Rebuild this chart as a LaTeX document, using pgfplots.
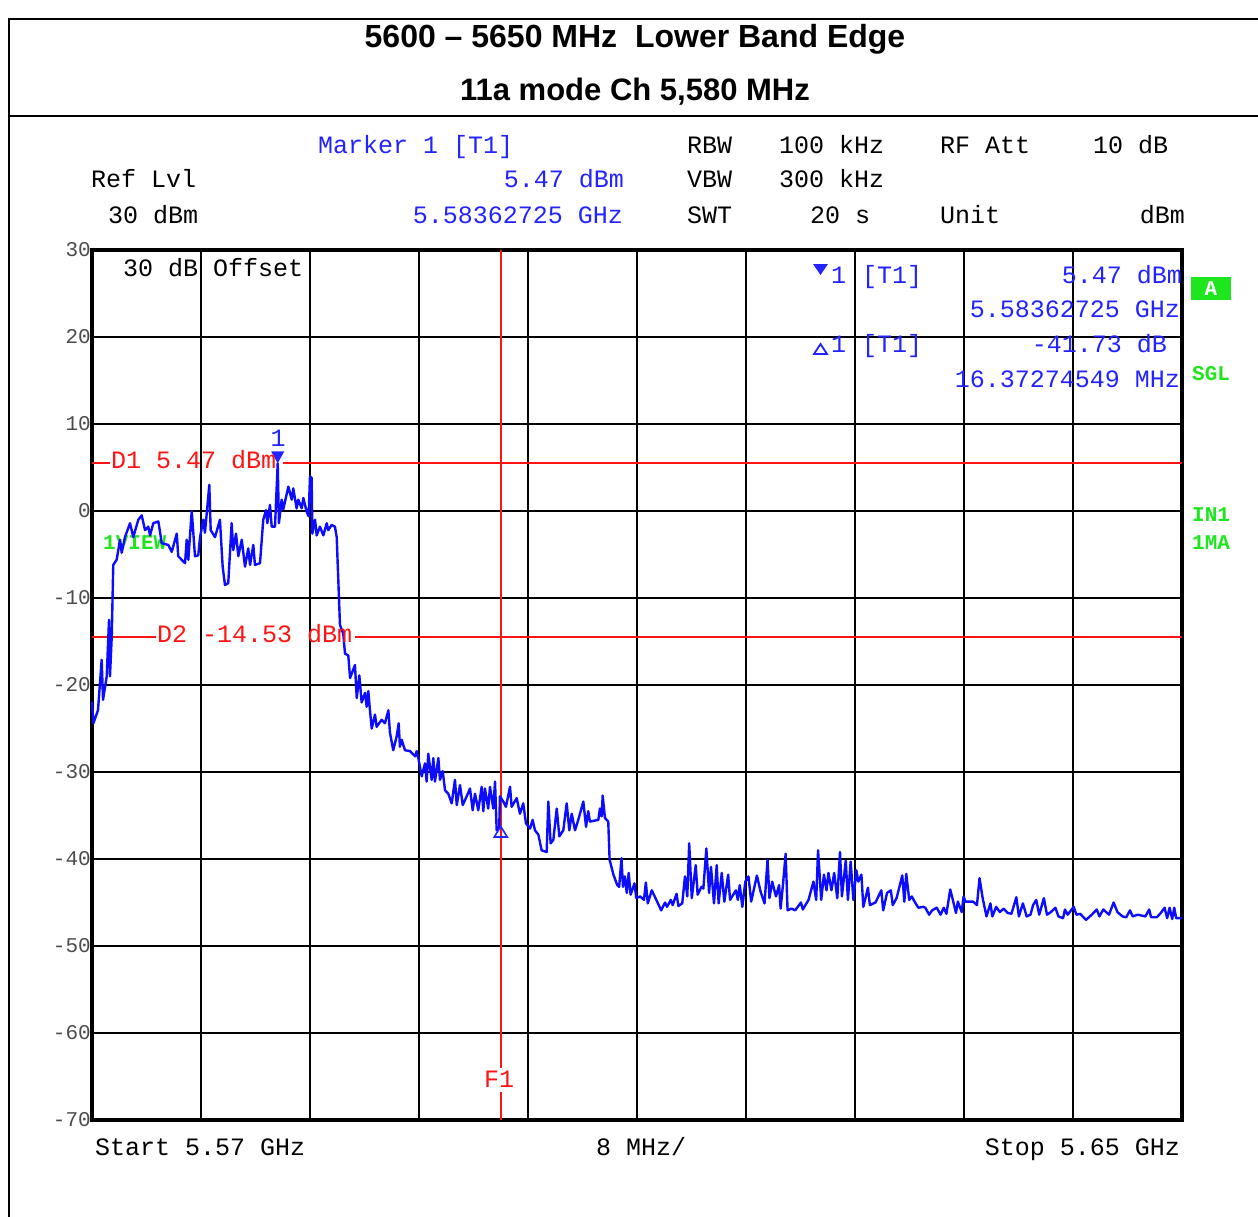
\documentclass[border=0pt]{standalone}
\usepackage{fontspec}
\setmainfont{Liberation Sans}
\newfontfamily\mono{Liberation Mono}
\usepackage{pgfplots}
\pgfplotsset{compat=1.18}

\definecolor{trace}{RGB}{12,12,255}
\definecolor{lim}{RGB}{255,20,20}
\definecolor{mk}{RGB}{35,35,255}
\definecolor{stat}{RGB}{30,230,30}

% marker 1 (filled, tip down) and delta marker (open, tip up)
\pgfdeclareplotmark{mdown}{\pgfpathmoveto{\pgfpointorigin}\pgfpathlineto{\pgfpoint{-6.5pt}{12pt}}\pgfpathlineto{\pgfpoint{6.5pt}{12pt}}\pgfpathclose\pgfusepathqfill}
\pgfdeclareplotmark{mup}{\pgfpathmoveto{\pgfpointorigin}\pgfpathlineto{\pgfpoint{-6.5pt}{-10.5pt}}\pgfpathlineto{\pgfpoint{6.5pt}{-10.5pt}}\pgfpathclose\pgfusepathqstroke}

\newcommand\mf{\mono\fontsize{25}{30}\selectfont}
\newcommand\gf{\mono\bfseries\fontsize{21}{24}\selectfont}

\begin{document}
\begin{tikzpicture}
\useasboundingbox (0pt,0pt) rectangle (1258pt,-1217pt);

% trace label that lies under the trace
\begin{scope}[x=1pt,y=-1pt]
\node[anchor=base west,inner sep=0,text=stat] at (103,549) {\gf 1VIEW};
\end{scope}

\begin{axis}[
  at={(92pt,-250pt)}, anchor=north west,
  scale only axis, width=1090pt, height=870pt,
  xmin=5570, xmax=5650, ymin=-70, ymax=30,
  xtick={5570,5578,...,5650}, xticklabels={},
  ytick={-70,-60,...,30},
  yticklabels={-70,-60,-50,-40,-30,-20,-10,0,10,20,30},
  yticklabel style={font=\mono\fontsize{21}{24}\selectfont, text=black!70, inner sep=1pt},
  grid=major, major grid style={black, line width=1.3pt},
  major tick length=0pt,
  axis line style={line width=3.5pt},
  clip=false,
]
% display lines D1, D2 and frequency line F1
\addplot[lim, line width=2pt] coordinates {(5570,5.47) (5571.3,5.47)};
\addplot[lim, line width=2pt] coordinates {(5584.0,5.47) (5650,5.47)};
\addplot[lim, line width=2pt] coordinates {(5570,-14.53) (5574.7,-14.53)};
\addplot[lim, line width=2pt] coordinates {(5589.3,-14.53) (5650,-14.53)};
\addplot[lim, line width=1.6pt] coordinates {(5600,30) (5600,-64.0)};
\addplot[lim, line width=1.6pt] coordinates {(5600,-66.8) (5600,-70)};

% measured trace
\addplot[trace, line width=2.4pt, line join=round] coordinates {
(5570.0,-21.9) (5570.1,-24.4) (5570.44,-22.9) (5570.71,-17.1) (5570.81,-21.7)
(5571.08,-19.0) (5571.25,-12.5) (5571.32,-19.0) (5571.45,-14.4) (5571.56,-6.2)
(5571.81,-5.6) (5572.06,-3.3) (5572.18,-4.8) (5572.42,-3.0) (5572.79,-1.4)
(5573.03,-3.0) (5573.40,-1.0) (5573.65,-0.5) (5573.89,-2.2) (5574.13,-1.8)
(5574.26,-2.8) (5574.50,-1.4) (5574.87,-1.2) (5575.12,-3.7) (5575.60,-3.9)
(5575.85,-4.7) (5576.22,-2.6) (5576.33,-5.2) (5576.58,-5.6) (5576.83,-6.0)
(5576.95,-3.3) (5577.07,-5.6) (5577.32,0.0) (5577.56,-5.2) (5577.80,-5.1)
(5577.93,-3.0) (5578.17,-1.0) (5578.29,-2.5) (5578.61,3.0) (5578.71,-2.2)
(5579.03,-3.0) (5579.39,-1.0) (5579.59,-6.4) (5579.76,-8.5) (5580.00,-8.3)
(5580.25,-1.4) (5580.37,-4.5) (5580.57,-2.6) (5580.74,-5.2) (5580.99,-3.3)
(5581.23,-6.4) (5581.47,-4.3) (5581.60,-6.2) (5581.84,-3.9) (5581.96,-6.2)
(5582.33,-6.0) (5582.57,-1.0) (5582.77,0.1) (5582.87,-1.4) (5583.06,0.7)
(5583.19,-1.8) (5583.43,-1.8) (5583.63,5.47) (5583.72,-1.4) (5583.92,1.3)
(5584.04,0.2) (5584.41,2.8) (5584.66,1.3) (5584.77,2.6) (5585.02,0.3)
(5585.14,1.3) (5585.39,0.3) (5585.51,1.5) (5585.76,-0.1) (5585.90,-0.6)
(5586.00,4.0) (5586.12,3.8) (5586.17,-2.6) (5586.37,-1.0) (5586.49,-2.8)
(5586.73,-1.8) (5586.98,-2.8) (5587.23,-1.4) (5587.34,-2.2) (5587.59,-1.6)
(5587.83,-1.8) (5587.96,-3.0) (5588.20,-13.1) (5588.44,-14.1) (5588.57,-16.4)
(5588.81,-16.6) (5588.94,-19.2) (5589.30,-17.7) (5589.43,-21.5) (5589.62,-18.9)
(5589.79,-22.0) (5590.04,-20.9) (5590.16,-22.5) (5590.28,-20.7) (5590.40,-22.9)
(5590.53,-25.0) (5590.77,-23.4) (5590.89,-24.8) (5591.26,-24.0) (5591.50,-24.4)
(5591.75,-22.9) (5591.87,-25.5) (5592.11,-27.5) (5592.36,-25.9) (5592.51,-24.4)
(5592.60,-27.1) (5592.73,-26.3) (5592.97,-27.5) (5593.34,-27.6) (5593.71,-28.2)
(5593.83,-27.6) (5593.95,-28.4) (5594.20,-30.5) (5594.44,-29.0) (5594.56,-31.1)
(5594.68,-27.9) (5594.93,-30.9) (5595.05,-28.4) (5595.17,-31.1) (5595.42,-28.4)
(5595.54,-30.9) (5595.74,-29.9) (5595.91,-32.1) (5596.15,-32.5) (5596.40,-33.6)
(5596.64,-30.9) (5596.77,-33.8) (5597.01,-31.5) (5597.21,-33.8) (5597.50,-32.8)
(5597.74,-31.9) (5597.94,-34.4) (5598.11,-32.5) (5598.35,-34.4) (5598.60,-31.7)
(5598.72,-34.5) (5598.84,-31.9) (5599.08,-34.2) (5599.21,-31.7) (5599.45,-34.2)
(5599.58,-31.1) (5599.70,-36.7) (5599.89,-36.3) (5599.94,-32.8) (5600.19,-33.4)
(5600.38,-34.0) (5600.68,-31.7) (5600.80,-34.0) (5601.17,-33.0) (5601.41,-34.8)
(5601.65,-33.6) (5601.85,-35.9) (5602.15,-36.5) (5602.34,-35.5) (5602.51,-36.7)
(5602.76,-37.2) (5603.00,-39.0) (5603.37,-39.2) (5603.49,-33.4) (5603.66,-38.2)
(5603.86,-37.8) (5604.11,-34.2) (5604.30,-37.4) (5604.59,-36.7) (5604.84,-33.6)
(5605.03,-36.7) (5605.21,-34.8) (5605.45,-36.7) (5605.69,-35.5) (5606.06,-33.4)
(5606.26,-36.3) (5606.42,-34.5) (5606.55,-35.7) (5607.16,-35.5) (5607.28,-34.2)
(5607.41,-35.1) (5607.48,-32.7) (5607.65,-35.3) (5607.89,-35.7) (5607.99,-40.1)
(5608.27,-41.8) (5608.55,-43.0) (5608.69,-43.2) (5608.86,-39.9) (5608.97,-43.2)
(5609.11,-42.0) (5609.25,-43.9) (5609.39,-41.6) (5609.53,-44.1) (5609.81,-42.8)
(5609.95,-44.5) (5610.23,-44.3) (5610.51,-44.7) (5610.65,-42.7) (5610.79,-45.1)
(5611.08,-43.6) (5611.36,-44.5) (5611.77,-45.9) (5612.06,-45.0) (5612.20,-45.5)
(5612.48,-44.7) (5612.62,-45.3) (5612.90,-44.0) (5613.04,-45.4) (5613.32,-45.1)
(5613.52,-42.0) (5613.69,-44.3) (5613.83,-38.2) (5614.02,-44.5) (5614.31,-40.7)
(5614.45,-44.1) (5614.73,-43.2) (5614.87,-43.4) (5615.09,-38.8) (5615.29,-43.9)
(5615.43,-40.9) (5615.65,-45.1) (5615.85,-40.7) (5615.99,-45.1) (5616.22,-41.6)
(5616.41,-44.9) (5616.69,-41.8) (5616.83,-44.7) (5617.26,-43.6) (5617.40,-44.7)
(5617.54,-43.0) (5617.73,-45.5) (5617.95,-42.6) (5618.18,-42.0) (5618.38,-44.9)
(5618.80,-41.9) (5619.08,-43.8) (5619.36,-45.1) (5619.58,-40.1) (5619.72,-44.5)
(5619.92,-42.6) (5620.20,-44.3) (5620.43,-43.0) (5620.54,-45.7) (5620.71,-43.0)
(5620.91,-39.4) (5621.05,-45.9) (5621.33,-45.7) (5621.61,-45.9) (5622.03,-45.0)
(5622.17,-45.8) (5622.59,-44.7) (5622.95,-42.6) (5623.15,-44.7) (5623.29,-39.0)
(5623.52,-44.7) (5623.72,-41.8) (5623.91,-43.6) (5624.05,-41.6) (5624.27,-43.6)
(5624.47,-41.6) (5624.70,-44.5) (5624.90,-39.2) (5625.04,-44.3) (5625.32,-40.2)
(5625.48,-44.7) (5625.68,-40.3) (5625.88,-44.7) (5626.10,-41.3) (5626.24,-42.6)
(5626.47,-41.8) (5626.61,-45.5) (5626.95,-43.3) (5627.09,-45.3) (5627.50,-45.0)
(5627.93,-43.6) (5628.07,-45.9) (5628.35,-43.9) (5628.63,-43.6) (5628.77,-45.3)
(5629.05,-44.5) (5629.47,-41.9) (5629.62,-44.9) (5629.76,-41.7) (5629.98,-44.7)
(5630.17,-44.3) (5630.37,-44.9) (5630.65,-45.6) (5631.02,-45.5) (5631.16,-45.6)
(5631.44,-46.4) (5631.66,-45.9) (5632.00,-45.6) (5632.28,-46.4) (5632.51,-45.6)
(5632.71,-46.3) (5632.99,-43.5) (5633.18,-44.7) (5633.41,-46.2) (5633.55,-44.9)
(5633.83,-46.1) (5633.97,-44.3) (5634.11,-44.9) (5634.67,-44.9) (5634.95,-45.3)
(5635.14,-42.2) (5635.37,-44.5) (5635.65,-46.6) (5635.94,-45.1) (5636.08,-46.6)
(5636.36,-45.5) (5636.63,-46.1) (5636.91,-45.7) (5637.20,-46.2) (5637.48,-46.3)
(5637.84,-44.4) (5638.03,-46.6) (5638.32,-45.1) (5638.60,-46.6) (5638.88,-46.4)
(5639.07,-45.3) (5639.30,-44.7) (5639.52,-46.4) (5639.86,-44.5) (5640.09,-46.4)
(5640.37,-46.1) (5640.71,-45.6) (5640.93,-46.6) (5641.27,-46.8) (5641.41,-45.8)
(5641.61,-46.4) (5642.05,-45.5) (5642.25,-46.4) (5642.53,-46.3) (5642.95,-47.0)
(5643.38,-46.4) (5643.74,-45.8) (5643.94,-46.6) (5644.22,-45.8) (5644.64,-46.4)
(5644.98,-45.0) (5645.26,-46.1) (5645.63,-46.6) (5645.91,-46.7) (5646.18,-45.9)
(5646.38,-46.6) (5646.75,-46.4) (5647.31,-46.6) (5647.59,-45.8) (5647.73,-46.7)
(5648.15,-46.7) (5648.44,-46.2) (5648.72,-45.6) (5648.91,-46.8) (5649.09,-45.6)
(5649.28,-46.9) (5649.43,-45.6) (5649.57,-46.8) (5649.84,-46.8) (5650.0,-46.8)
};

% marker 1 and delta marker 1
\addplot[mk, only marks, mark=mdown] coordinates {(5583.63,5.47)};
\addplot[mk, only marks, mark=mup, mark options={line width=1.6pt}] coordinates {(5600.0,-36.26)};
\end{axis}

\begin{scope}[x=1pt,y=-1pt]
% frame and title
\draw[line width=2pt] (9,1217) -- (9,19) -- (1258,19);
\draw[line width=2pt] (9,116) -- (1258,116);
\node[anchor=base,inner sep=0] at (635,48) {\bfseries\fontsize{32}{36}\selectfont 5600 -- 5650 MHz\ \ Lower Band Edge};
\node[anchor=base,inner sep=0] at (635,101) {\bfseries\fontsize{31}{36}\selectfont 11a mode Ch 5,580 MHz};

% header
\node[anchor=base west,inner sep=0,text=mk] at (318,154) {\mf Marker 1 [T1]};
\node[anchor=base west,inner sep=0] at (687,154) {\mf RBW};
\node[anchor=base west,inner sep=0] at (779,154) {\mf 100 kHz};
\node[anchor=base west,inner sep=0] at (940,154) {\mf RF Att};
\node[anchor=base west,inner sep=0] at (1093,154) {\mf 10 dB};
\node[anchor=base west,inner sep=0] at (91,188) {\mf Ref Lvl};
\node[anchor=base east,inner sep=0,text=mk] at (624,188) {\mf 5.47 dBm};
\node[anchor=base west,inner sep=0] at (687,188) {\mf VBW};
\node[anchor=base west,inner sep=0] at (779,188) {\mf 300 kHz};
\node[anchor=base west,inner sep=0] at (108,223) {\mf 30 dBm};
\node[anchor=base east,inner sep=0,text=mk] at (623,223) {\mf 5.58362725 GHz};
\node[anchor=base west,inner sep=0] at (687,223) {\mf SWT};
\node[anchor=base west,inner sep=0] at (810,223) {\mf 20 s};
\node[anchor=base west,inner sep=0] at (940,223) {\mf Unit};
\node[anchor=base east,inner sep=0] at (1185,223) {\mf dBm};

% labels inside the diagram
\node[anchor=base west,inner sep=0] at (123,276) {\mf 30 dB Offset};
\node[anchor=base west,inner sep=0,text=lim] at (111,468) {\mf D1 5.47 dBm};
\node[anchor=base west,inner sep=0,text=lim] at (157,642) {\mf D2 -14.53 dBm};
\node[anchor=base,inner sep=0,text=lim] at (499,1087) {\mf F1};
\node[anchor=base,inner sep=0,text=mk] at (278,446) {\mf 1};

% marker table
\fill[mk] (813,264) -- (828,264) -- (820.5,275) -- cycle;
\node[anchor=base west,inner sep=0,text=mk] at (831,283) {\mf 1};
\node[anchor=base west,inner sep=0,text=mk] at (862,283) {\mf [T1]};
\node[anchor=base east,inner sep=0,text=mk] at (1182,283) {\mf 5.47 dBm};
\node[anchor=base east,inner sep=0,text=mk] at (1180,317) {\mf 5.58362725 GHz};
\draw[mk,line width=1.8pt] (814,354) -- (827,354) -- (820.5,344) -- cycle;
\node[anchor=base west,inner sep=0,text=mk] at (831,352) {\mf 1};
\node[anchor=base west,inner sep=0,text=mk] at (862,352) {\mf [T1]};
\node[anchor=base east,inner sep=0,text=mk] at (1167,352) {\mf -41.73 dB};
\node[anchor=base east,inner sep=0,text=mk] at (1180,387) {\mf 16.37274549 MHz};

% status labels on the right
\fill[stat] (1191,277) rectangle (1231,300);
\node[text=white,inner sep=0] at (1211,288.5) {\gf A};
\node[anchor=base west,inner sep=0,text=stat] at (1192,380) {\gf SGL};
\node[anchor=base west,inner sep=0,text=stat] at (1192,521) {\gf IN1};
\node[anchor=base west,inner sep=0,text=stat] at (1192,549) {\gf 1MA};

% footer
\node[anchor=base west,inner sep=0] at (95,1155) {\mf Start 5.57 GHz};
\node[anchor=base west,inner sep=0] at (596,1155) {\mf 8 MHz/};
\node[anchor=base east,inner sep=0] at (1180,1155) {\mf Stop 5.65 GHz};
\end{scope}
\end{tikzpicture}
\end{document}
